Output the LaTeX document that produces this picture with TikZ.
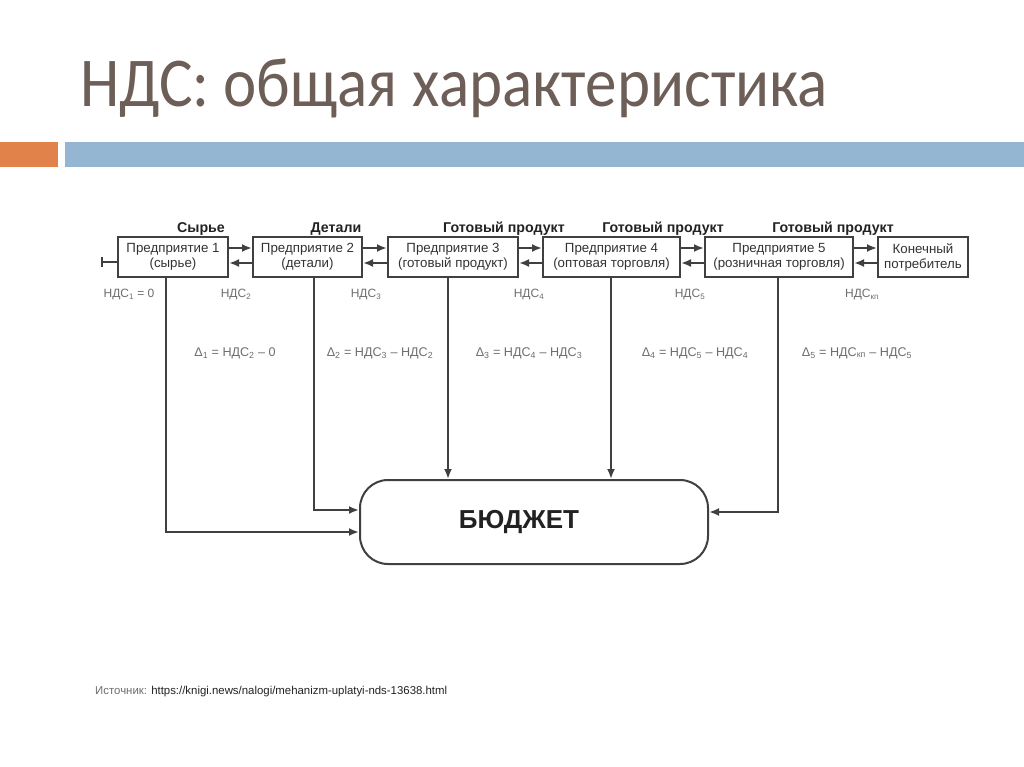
\documentclass[tikz,border=0pt]{standalone}
\usepackage{fontspec}
\setmainfont{Liberation Sans}
\newfontfamily\titlefont[FakeStretch=0.9]{Carlito}
\usepackage{xcolor}
\usetikzlibrary{arrows.meta,positioning}
\definecolor{cTitle}{HTML}{6E5E58}
\definecolor{cOrange}{HTML}{E0824A}
\definecolor{cBlue}{HTML}{94B6D2}
\definecolor{cLine}{HTML}{404040}
\definecolor{cDark}{HTML}{222222}
\definecolor{cText}{HTML}{333333}
\definecolor{cGrey}{HTML}{6E6E6E}

\begin{document}
\begin{tikzpicture}[
  x=1pt,y=1pt,font=\fontsize{13.3}{15}\selectfont,
  firm/.style={draw=cLine,line width=2pt,align=center,inner sep=1pt,
               minimum height=40pt,text=cText},
  bud/.style={draw=cLine,line width=2pt,rounded corners=28pt,text=cDark,
              minimum width=348pt,minimum height=84pt,
              font=\fontsize{26}{30}\selectfont\bfseries},
  ar/.style={-{Latex[length=10pt,width=8pt]},draw=cLine,line width=2pt},
  lbl/.style={font=\fontsize{14.2}{16}\selectfont\bfseries,text=cDark},
  nds/.style={font=\fontsize{12}{14}\selectfont,text=cGrey},
  dlt/.style={font=\fontsize{12.6}{14}\selectfont,text=cGrey}
]
\fill[white] (0,0) rectangle (1024,-767);
\useasboundingbox (0,0) rectangle (1024,-767);

% ---- titulo e faixas
\node[anchor=base west,font=\titlefont\fontsize{70}{80}\selectfont,text=cTitle,inner sep=0pt]
      (title) at (80,-107) {НДС: общая характеристика};
\fill[cOrange] (0,-142) rectangle (58,-167);
\fill[cBlue]   (65,-142) rectangle (1024,-167);

% ---- cadeia de empresas
\node[firm,minimum width=110pt] (e1) at (173,-257)   {Предприятие 1\\(сырье)};
\node[firm,minimum width=109pt] (e2) at (307.5,-257) {Предприятие 2\\(детали)};
\node[firm,minimum width=130pt] (e3) at (453,-257)   {Предприятие 3\\(готовый продукт)};
\node[firm,minimum width=137pt] (e4) at (611.5,-257) {Предприятие 4\\(оптовая торговля)};
\node[firm,minimum width=148pt] (e5) at (779,-257)   {Предприятие 5\\(розничная торговля)};
\node[firm,minimum width=90pt]  (kp) at (923,-257)   {Конечный\\потребитель};

% ---- rotulos de produto
\node[lbl] (l1) at (201,-229) {Сырье};
\node[lbl] (l2) at (336,-229) {Детали};
\node[lbl] (l3) at (504,-229) {Готовый продукт};
\node[lbl] (l4) at (663,-229) {Готовый продукт};
\node[lbl] (l5) at (833,-229) {Готовый продукт};

% ---- orcamento
\node[bud] (bud) at (534,-522) {\hspace*{-30pt}БЮДЖЕТ};

% ---- setas entre empresas
\coordinate (st) at (101,-262);
\draw[{Bar[width=10pt]}-,draw=cLine,line width=2pt] (st) -- ([yshift=-5pt]e1.west);
\draw[ar] ([yshift=9pt]e1.east) -- ([yshift=9pt]e2.west);
\draw[ar] ([yshift=-6pt]e2.west) -- ([yshift=-6pt]e1.east);
\draw[ar] ([yshift=9pt]e2.east) -- ([yshift=9pt]e3.west);
\draw[ar] ([yshift=-6pt]e3.west) -- ([yshift=-6pt]e2.east);
\draw[ar] ([yshift=9pt]e3.east) -- ([yshift=9pt]e4.west);
\draw[ar] ([yshift=-6pt]e4.west) -- ([yshift=-6pt]e3.east);
\draw[ar] ([yshift=9pt]e4.east) -- ([yshift=9pt]e5.west);
\draw[ar] ([yshift=-6pt]e5.west) -- ([yshift=-6pt]e4.east);
\draw[ar] ([yshift=9pt]e5.east) -- ([yshift=9pt]kp.west);
\draw[ar] ([yshift=-6pt]kp.west) -- ([yshift=-6pt]e5.east);

% ---- pagamentos ao orcamento
\draw[ar] ([xshift=-7pt]e1.south) |- ([yshift=-10pt]bud.west);
\draw[ar] ([xshift=6.5pt]e2.south) |- ([yshift=12pt]bud.west);
\draw[ar] ([xshift=-5pt]e3.south) -- ([xshift=-5pt]e3.south |- bud.north);
\draw[ar] ([xshift=-0.5pt]e4.south) -- ([xshift=-0.5pt]e4.south |- bud.north);
\draw[ar] ([xshift=-1pt]e5.south) |- ([yshift=10pt]bud.east);

% ---- NDS
\node[nds] (n1) at (129,-295) {НДС\textsubscript{1} = 0};
\node[nds] (n2) at (236,-295) {НДС\textsubscript{2}};
\node[nds] (n3) at (366,-295) {НДС\textsubscript{3}};
\node[nds] (n4) at (529,-295) {НДС\textsubscript{4}};
\node[nds] (n5) at (690,-295) {НДС\textsubscript{5}};
\node[nds] (n6) at (862,-295) {НДС\textsubscript{кп}};

% ---- diferencas
\node[dlt] (d1) at (235,-353) {Δ\textsubscript{1} = НДС\textsubscript{2} – 0};
\node[dlt] (d2) at (380,-353) {Δ\textsubscript{2} = НДС\textsubscript{3} – НДС\textsubscript{2}};
\node[dlt] (d3) at (529,-353) {Δ\textsubscript{3} = НДС\textsubscript{4} – НДС\textsubscript{3}};
\node[dlt] (d4) at (695,-353) {Δ\textsubscript{4} = НДС\textsubscript{5} – НДС\textsubscript{4}};
\node[dlt] (d5) at (857,-353) {Δ\textsubscript{5} = НДС\textsubscript{кп} – НДС\textsubscript{5}};

% ---- fonte
\node[anchor=west,font=\fontsize{11.4}{13}\selectfont,inner sep=0pt] (src) at (95,-692)
      {\textcolor{cGrey}{Источник:} \textcolor{cDark}{https://knigi.news/nalogi/mehanizm-uplatyi-nds-13638.html}};
\end{tikzpicture}
\end{document}
